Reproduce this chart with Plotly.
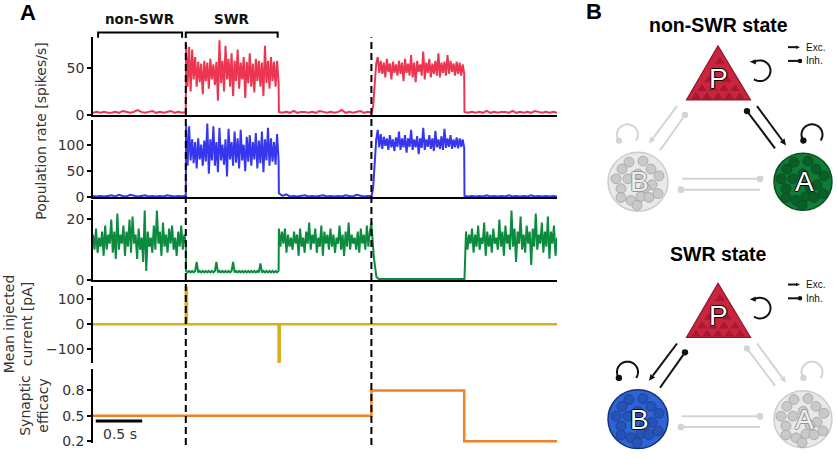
import numpy as np
import plotly.graph_objects as go

W, H = 837, 458

# time segments (s): non-SWR | SWR | non-SWR | SWR (stim) | non-SWR
seg_edges = [0.0, 1.0, 2.0, 3.0, 4.0, 5.0]

red_base1 = [2, 3, 2, 3, 2, 2, 3, 2, 4, 3, 2, 3, 5, 3, 2, 3, 4, 2, 3, 2, 3, 4, 2, 3, 2, 3]
red_swr1 = [76, 30, 73, 25, 70, 38, 62, 30, 57, 35, 55, 22, 58, 36, 56, 28, 60, 38, 54, 32, 57, 15,
            80, 34, 58, 25, 74, 38, 60, 30, 66, 20, 58, 36, 70, 28, 56, 38, 62, 18, 57, 34, 66, 30,
            55, 24, 60, 36, 58, 30, 56, 20, 74, 34, 58, 28, 62, 36, 57, 30, 58, 34]
red_base2 = [3, 2, 3, 2, 4, 2, 3, 3, 2, 3, 2, 4, 3, 2, 3, 2, 3, 5, 2, 3, 2, 3, 4, 2, 3, 2]
red_swr2 = [2, 10, 35, 55, 62, 45, 58, 44, 56, 40, 60, 46, 55, 38, 57, 45, 54, 42, 58, 44, 56, 36,
            60, 45, 55, 42, 64, 40, 56, 35, 58, 46, 54, 42, 68, 38, 56, 45, 60, 40, 55, 44, 58, 42,
            66, 40, 56, 45, 57, 42, 64, 44, 58, 46, 55, 42, 57, 44, 56, 42, 54, 44]
red_base3 = [3, 2, 3, 2, 3, 2, 4, 2, 3, 2, 3, 3, 2, 4, 2, 3, 2, 3, 2, 4, 3, 2, 3, 2, 3, 2]

blue_base1 = [3, 2, 3, 2, 3, 4, 2, 5, 3, 2, 5, 3, 2, 3, 4, 2, 3, 2, 3, 2, 4, 3, 2, 3, 2, 4]
blue_swr1 = [138, 60, 135, 70, 110, 65, 105, 55, 112, 72, 100, 60, 108, 68, 140, 45, 110, 70, 135,
             60, 105, 48, 132, 70, 100, 62, 110, 40, 130, 72, 105, 60, 125, 66, 112, 55, 128, 70,
             100, 50, 115, 68, 118, 60, 105, 72, 122, 55, 108, 65, 125, 48, 110, 70, 132, 60, 112,
             68, 105, 62, 120, 70]
blue_base2 = [8, 3, 6, 2, 3, 2, 3, 4, 2, 3, 2, 3, 4, 2, 3, 2, 3, 2, 4, 3, 2, 5, 3, 2, 3, 2]
blue_swr2 = [3, 20, 75, 110, 128, 95, 120, 92, 115, 98, 112, 90, 118, 95, 110, 88, 114, 96, 125, 90,
             112, 95, 118, 85, 112, 96, 128, 90, 110, 95, 116, 82, 112, 94, 132, 90, 110, 96, 118,
             92, 112, 88, 126, 95, 110, 92, 116, 90, 130, 94, 112, 96, 118, 92, 110, 95, 114, 93,
             112, 96, 110, 94]
blue_base3 = [3, 2, 3, 2, 3, 2, 4, 2, 3, 2, 3, 2, 4, 2, 3, 2, 3, 2, 4, 2, 3, 2, 3, 2, 3, 2]

green_non1 = [15, 10, 17, 9, 14, 11, 16, 8, 18, 10, 15, 12, 20, 9, 16, 7, 22, 10, 15, 12, 18, 8, 16,
              11, 20, 9, 21, 12, 15, 7, 17, 10, 14, 6, 23, 3, 16, 11, 14, 9, 18, 10, 23, 12, 16, 8,
              19, 11, 15, 9, 17, 12, 18, 10, 14, 8, 16, 11, 18, 10, 15, 12]
green_swr1 = [3, 2.5, 3, 2.5, 3, 2.5, 3, 6, 2.5, 3, 2.5, 3, 2.5, 3, 2.5, 3, 2.5, 3, 2.5, 3, 6, 2.5,
              3, 2.5, 3, 2.5, 3, 2.5, 3, 2.5, 3, 6, 2.5, 3, 2.5, 3, 2.5, 3, 2.5, 3, 2.5, 3, 2.5, 3,
              2.5, 3, 2.5, 3, 2.5, 5.5, 2.5, 3, 2.5, 3, 2.5, 3, 2.5, 3, 2.5, 3, 2.5, 3]
green_non2 = [17, 11, 16, 12, 17, 9, 15, 11, 14, 10, 16, 12, 15, 8, 17, 11, 14, 9, 16, 12, 19, 10,
              15, 12, 17, 9, 14, 11, 18, 8, 16, 12, 15, 10, 17, 11, 15, 9, 14, 12, 18, 10, 15, 8,
              16, 11, 19, 10, 15, 12, 14, 10, 16, 9, 17, 12, 15, 10, 18, 11, 16, 19]
green_swr2 = [17, 7, 1, 0.3, 0.3, 0.3, 0.3, 0.3, 0.3, 0.3, 0.3, 0.3, 0.3, 0.3, 0.3, 0.3, 0.3, 0.3,
              0.3, 0.3, 0.3, 0.3, 0.3, 0.3, 0.3, 0.3, 0.3, 0.3, 0.3, 0.3, 0.3, 0.3, 0.3, 0.3, 0.3,
              0.3, 0.3, 0.3, 0.3, 0.3]
green_non3 = [0.3, 16, 10, 15, 12, 17, 9, 15, 11, 18, 10, 14, 12, 19, 8, 16, 11, 15, 9, 17, 12, 14,
              10, 20, 11, 16, 8, 18, 12, 15, 10, 23, 11, 17, 6, 16, 12, 21, 10, 15, 9, 18, 12, 16,
              5, 17, 11, 22, 10, 15, 12, 19, 9, 16, 11, 21, 7, 16, 12, 18, 8, 14]

current_t = [0.0, 1.0, 1.012, 2.0, 2.012, 5.0]
current_pa = [0, 150, 0, -150, 0, 0]

efficacy_t = [0.0, 3.0, 4.0, 5.0]
efficacy = [0.5, 0.8, 0.2, 0.2]

y_ticks = [[0, 50], [0, 50, 100], [0, 20], [-100, 0, 100], [0.2, 0.5, 0.8]]


def px(x):
    return x / W


def py(y):
    return 1 - y / H


def build(segs):
    t, v = [], []
    for i, vals in enumerate(segs):
        start = seg_edges[i] + (0.003 if i else 0.0)
        t.extend(np.linspace(start, seg_edges[i + 1], len(vals)))
        v.extend(vals)
    return t, v


fig = go.Figure()

red_t, red_v = build([red_base1, red_swr1, red_base2, red_swr2, red_base3])
blue_t, blue_v = build([blue_base1, blue_swr1, blue_base2, blue_swr2, blue_base3])
green_t, green_v = build([green_non1, green_swr1, green_non2, green_swr2, green_non3])

fig.add_trace(go.Scatter(x=red_t, y=red_v, mode='lines', line=dict(color='#ec3651', width=2),
                         xaxis='x', yaxis='y'))
fig.add_trace(go.Scatter(x=blue_t, y=blue_v, mode='lines', line=dict(color='#3636ee', width=2),
                         xaxis='x2', yaxis='y2'))
fig.add_trace(go.Scatter(x=green_t, y=green_v, mode='lines', line=dict(color='#0b8b3d', width=2),
                         xaxis='x3', yaxis='y3'))
fig.add_trace(go.Scatter(x=current_t, y=current_pa, mode='lines', line_shape='hv',
                         line=dict(color='#d8b01e', width=2.5), xaxis='x4', yaxis='y4'))
fig.add_trace(go.Scatter(x=efficacy_t, y=efficacy, mode='lines', line_shape='hv',
                         line=dict(color='#ef8127', width=2.5), xaxis='x5', yaxis='y5'))

# subplot boxes in pixels (top, bottom)
doms = [(38, 117), (122, 201), (204, 285), (291.5, 369.5), (375.7, 451)]
ranges = [[-0.3, 83.2], [0, 147], [0, 26.3], [-154, 150], [0.177, 1.051]]
tick_font = dict(family='DejaVu Sans', size=14, color='#333333')

axes = {}
for i in range(5):
    k = '' if i == 0 else str(i + 1)
    top, bot = doms[i]
    axes['xaxis' + k] = dict(domain=[px(93), px(557)], range=[0, 5], anchor='y' + k,
                             showline=i < 3, linecolor='black', linewidth=1.5,
                             showticklabels=False, ticks='', showgrid=False, zeroline=False)
    axes['yaxis' + k] = dict(domain=[py(bot), py(top)], range=ranges[i], anchor='x' + k,
                             showline=True, linecolor='black', linewidth=1.5,
                             ticks='outside', ticklen=4, tickwidth=1.5, tickcolor='black',
                             tickvals=y_ticks[i], tickfont=tick_font,
                             showgrid=False, zeroline=False)

shapes = []
annos = []


def text(x, y, txt, font, xref='paper', angle=0, xanchor='center'):
    annos.append(dict(x=x, y=y, xref=xref, yref='paper', text=txt, showarrow=False,
                      xanchor=xanchor, yanchor='middle', textangle=angle, font=font))


# dashed event markers
for t in [1.0, 3.0]:
    shapes.append(dict(type='line', xref='x', yref='paper', x0=t, x1=t, y0=py(453), y1=py(38),
                       line=dict(color='black', width=2, dash='7px,4px'), layer='above'))

# brackets over the first two states
for t0, t1, label in [(0.055, 0.96, 'non-SWR'), (1.0, 1.99, 'SWR')]:
    shapes.append(dict(type='path', xref='x', yref='paper',
                       path=f'M {t0},{py(38.5)} L {t0},{py(33)} L {t1},{py(33)} L {t1},{py(38.5)}',
                       line=dict(color='black', width=2)))
    text((t0 + t1) / 2, py(19), '<b>%s</b>' % label,
         dict(family='DejaVu Sans', size=13.5, color='#111'), xref='x')

# scale bar
shapes.append(dict(type='line', xref='x', yref='paper', x0=0.03, x1=0.53, y0=py(428.5), y1=py(428.5),
                   line=dict(color='black', width=3)))
text(px(120), py(442), '0.5 s', dict(family='DejaVu Sans', size=14, color='#333'))

lab_font = dict(family='DejaVu Sans', size=14, color='#333333')
text(px(41), py(134), 'Population rate [spikes/s]', lab_font, angle=-90)
text(px(18), py(330), 'Mean injected<br>current [pA]', lab_font, angle=-90)
text(px(34), py(413), 'Synaptic<br>efficacy', lab_font, angle=-90)

for txt, x, y in [('A', 28, 13), ('B', 594, 12)]:
    text(px(x), py(y), '<b>%s</b>' % txt, dict(family='Liberation Sans', size=22, color='black'))
for txt, y in [('non-SWR state', 25), ('SWR state', 259)]:
    text(px(718), py(y), '<b>%s</b>' % txt, dict(family='Liberation Sans', size=19.5, color='black'))


# ---- panel B network drawing helpers (pixel coordinates) ----
def pline(x0, y0, x1, y1, color, width=2):
    shapes.append(dict(type='line', xref='paper', yref='paper', x0=px(x0), y0=py(y0),
                       x1=px(x1), y1=py(y1), line=dict(color=color, width=width)))


def pdot(x, y, r, color, lc=None, lw=0):
    shapes.append(dict(type='circle', xref='paper', yref='paper', x0=px(x - r), x1=px(x + r),
                       y0=py(y + r), y1=py(y - r), fillcolor=color,
                       line=dict(color=lc or color, width=lw)))


def ppoly(pts, fill, lc=None, lw=0):
    path = 'M ' + ' L '.join('%.5f,%.5f' % (px(x), py(y)) for x, y in pts) + ' Z'
    shapes.append(dict(type='path', xref='paper', yref='paper', path=path, fillcolor=fill,
                       line=dict(color=lc or fill, width=lw)))


def head(x0, y0, x1, y1, color, size=6.5):
    d = np.array([x1 - x0, y1 - y0], dtype=float)
    d /= np.hypot(*d)
    n = np.array([-d[1], d[0]])
    tip = np.array([x1, y1], dtype=float)
    base = tip - d * size
    ppoly([tip, base + n * size * 0.45, base - n * size * 0.45], color)
    return base


def exc(x0, y0, x1, y1, color, size=6.5):
    b = head(x0, y0, x1, y1, color, size)
    pline(x0, y0, b[0], b[1], color)


def inh(x0, y0, x1, y1, color, r=3.2):
    pline(x0, y0, x1, y1, color)
    pdot(x1, y1, r, color)


def arc(cx, cy, r, a0, a1, color):
    a = np.radians(np.linspace(a0, a1, 40))
    xs = cx + r * np.cos(a)
    ys = cy - r * np.sin(a)
    path = 'M ' + ' L '.join('%.5f,%.5f' % (px(x), py(y)) for x, y in zip(xs, ys))
    shapes.append(dict(type='path', xref='paper', yref='paper', path=path,
                       line=dict(color=color, width=2)))
    return (xs[0], ys[0]), (xs[-1], ys[-1])


BLACK = '#111111'
LGRAY = '#d4d4d4'
node_style = {
    'gray': ('#e9e9e9', '#cccccc', '#c9c9c9', '#a2a2a2', '#ededed', '#959595'),
    'green': ('#0f7c37', '#0a4f22', '#0a5f29', '#094a21', 'white', '#000000'),
    'blue': ('#2f64d4', '#13307c', '#2654b6', '#1b3f8f', 'white', '#000000'),
}
dot_offsets = [(-9, -20), (5, -21), (-16, -13), (13, -13), (-22, -3), (21, -6), (-10, -3),
               (-17, 7), (14, 3), (20, 12), (-17, 16), (-7, 19), (3, 15), (11, 16), (-1, 24),
               (0, -8), (7, 6)]
tri_tex = [(-22, 54), (-11, 54), (0, 54), (11, 54), (22, 54), (-16, 46), (-5, 46), (6, 46),
           (17, 46), (-9, 37), (9, 37), (2, 18)]


def letter(x, y, txt, fill, edge, size=28):
    sh = ', '.join('%s %s 0 %s' % (a, b, edge) for a, b in
                   [('1px', '0'), ('-1px', '0'), ('0', '1px'), ('0', '-1px')])
    text(px(x), py(y), txt, dict(family='Liberation Sans', size=size, color=fill, shadow=sh))


def node(cx, cy, r, txt, style):
    fill, edge, dfill, dedge, lfill, ledge = node_style[style]
    pdot(cx, cy, r, fill, edge, 1.5)
    for ox, oy in dot_offsets:
        pdot(cx + ox, cy + oy, 5, dfill, dedge, 0.8)
    letter(cx + 1, cy, txt, lfill, ledge)


def network(dy, active):
    ca = BLACK if active == 'A' else LGRAY
    cb = BLACK if active == 'B' else LGRAY
    # B <-> A (silent in both states)
    pline(682, 182 + dy, 757, 182 + dy, LGRAY)
    pdot(760, 182 + dy, 3.4, LGRAY)
    pline(684, 193 + dy, 760, 193 + dy, LGRAY)
    pdot(681, 193 + dy, 3.4, LGRAY)
    # P <-> B
    exc(677, 108 + dy, 649, 146 + dy, cb)
    inh(660, 153 + dy, 685, 117 + dy, cb)
    # P <-> A
    exc(757, 108 + dy, 786, 148 + dy, ca)
    inh(775, 151 + dy, 747, 113 + dy, ca)
    # self loops
    s, _ = arc(760, 72 + dy, 10.5, 120, -125, BLACK)
    head(s[0] + 2, s[1], s[0] - 5, s[1], BLACK, 6)
    s, _ = arc(812, 137 + dy, 10.5, 215, -35, ca)
    pdot(s[0], s[1], 3.2, ca)
    s, _ = arc(627.5, 137 + dy, 10.5, 215, -35, cb)
    pdot(s[0], s[1], 3.2, cb)
    # legend
    exc(788, 48 + dy, 800, 48 + dy, BLACK, 4)
    inh(788, 62 + dy, 800, 62 + dy, BLACK, 2.3)
    for txt, y in [('Exc.', 48), ('Inh.', 62)]:
        text(px(804), py(y + dy), txt, dict(family='Liberation Sans', size=10, color='#111'),
             xanchor='left')
    # P
    ax, ay = 718, 46.7 + dy
    ppoly([(ax, ay), (686.5, 101.7 + dy), (750.5, 101.7 + dy)], '#c9253f', '#8f1528', 1.2)
    for ox, oy in tri_tex:
        bx, by = ax + ox, ay + oy
        ppoly([(bx, by - 7), (bx - 5, by), (bx + 5, by)], '#a51a31')
    letter(718, 80 + dy, 'P', 'white', '#000000')
    # A and B
    node(638, 185 + dy, 30, 'B', 'blue' if active == 'B' else 'gray')
    node(803, 185 + dy, 29, 'A', 'green' if active == 'A' else 'gray')


network(0, 'A')
network(241.6, 'B')

fig.update_layout(width=W, height=H, margin=dict(l=0, r=0, t=0, b=0),
                  paper_bgcolor='white', plot_bgcolor='white', showlegend=False,
                  shapes=shapes, annotations=annos, **axes)

# page body has a default 8px margin; drop it so the figure fills the window
fig.write_html('out.html', config={'displayModeBar': False},
               post_script="document.body.style.margin='0px';")
